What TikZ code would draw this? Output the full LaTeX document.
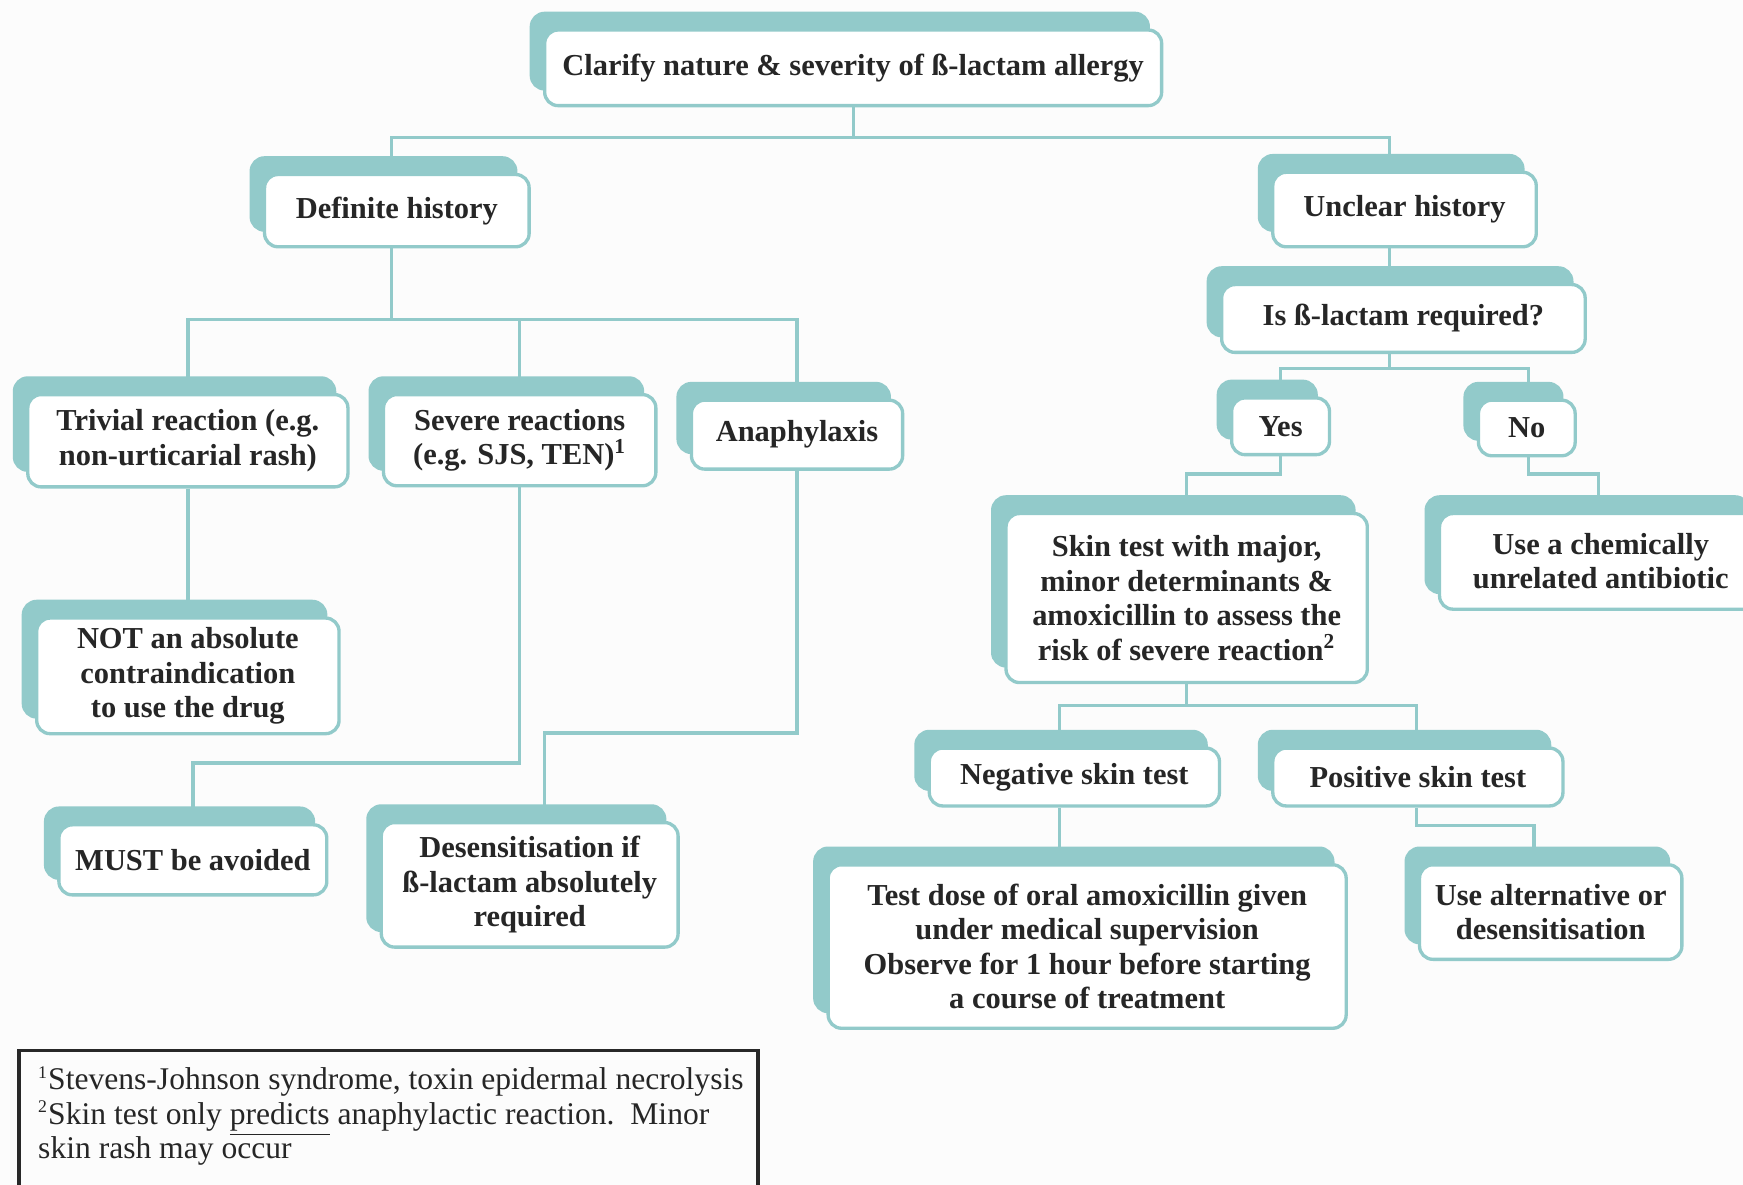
\documentclass[tikz,border=0pt]{standalone}
\usepackage{fontspec}
\setmainfont{Liberation Serif}
\usetikzlibrary{shadows}
\definecolor{tealc}{RGB}{146,202,202}
\definecolor{bgc}{RGB}{252,252,252}
\definecolor{footc}{RGB}{40,40,40}
\begin{document}
\begin{tikzpicture}[x=0.5pt,y=-0.5pt,
  box/.style={draw=tealc, line width=1.5pt, fill=white, rounded corners=6pt,
    align=center, inner sep=0pt, text=black!85,
    font=\bfseries\fontsize{13.7}{15.5}\selectfont,
    copy shadow={shadow xshift=-6pt, shadow yshift=7.5pt, fill=tealc, draw=tealc}},
  sz/.style 2 args={minimum width=#1*0.5pt, minimum height=#2*0.5pt},
  conn/.style={draw=tealc, line width=1.5pt}]
\useasboundingbox (0,0) rectangle (1568,1066);
\clip (0,0) rectangle (1568,1066);
\fill[bgc] (0,0) rectangle (1568,1066);

% boxes
\node[box, sz={555}{68}] (clar) at (767.5,61) {Clarify nature \& severity of ß-lactam allergy};
\node[box, sz={238}{65}] (def) at (357,189.5) {Definite history};
\node[box, sz={237}{67}] (unc) at (1263.5,188.5) {Unclear history};
\node[box, sz={327}{61}] (isb) at (1262.5,286.5) {Is ß-lactam required?};
\node[box, sz={288}{83}] (triv) at (169,396.5) {Trivial reaction (e.g.\\ non-urticarial rash)};
\node[box, sz={245}{82}] (sev) at (467.5,396) {Severe reactions\\ (e.g. SJS, TEN)\textsuperscript{1}};
\node[box, sz={190}{62}] (ana) at (717,391) {Anaphylaxis};
\node[box, sz={88}{51}] (yes) at (1152,383.5) {Yes};
\node[box, sz={87}{50}] (no) at (1373.5,385) {No};
\node[box, sz={325}{152}] (skin) at (1067.5,538) {Skin test with major,\\ minor determinants \&\\ amoxicillin to assess the\\ risk of severe reaction\textsuperscript{2}};
\node[box, sz={290}{86}] (chem) at (1440,505) {Use a chemically\\ unrelated antibiotic};
\node[box, sz={272}{104}] (notabs) at (169,608) {NOT an absolute\\ contraindication\\ to use the drug};
\node[box, sz={261}{52}] (neg) at (966.5,699) {Negative skin test};
\node[box, sz={261}{52}] (pos) at (1275.5,699) {Positive skin test};
\node[box, sz={241}{63}] (must) at (173.5,773.5) {MUST be avoided};
\node[box, sz={267}{112}] (des) at (476.5,796) {Desensitisation if\\ ß-lactam absolutely\\ required};
\node[box, sz={466}{147}] (test) at (978,851.5) {Test dose of oral amoxicillin given\\ under medical supervision\\ Observe for 1 hour before starting\\ a course of treatment};
\node[box, sz={236}{85}] (alt) at (1395,820.5) {Use alternative or\\ desensitisation};

% connectors
\draw[conn] (clar.south) -- ++(0,27) -| ([xshift=-2.5pt]def.north);
\draw[conn] (clar.south) ++(0,27) -| ([xshift=-6.75pt]unc.north);
\draw[conn] ([xshift=-2.5pt]def.south) -- ++(0,64) -| (triv.north);
\draw[conn] ([xshift=-2.5pt]def.south) ++(0,64) -| (sev.north);
\draw[conn] ([xshift=-2.5pt]def.south) ++(0,64) -| (ana.north);
\draw[conn] ([xshift=-6.75pt]unc.south) -- ([xshift=-6.25pt]isb.north);
\draw[conn] ([xshift=-6.25pt]isb.south) -- ++(0,13) -| (yes.north);
\draw[conn] ([xshift=-6.25pt]isb.south) ++(0,13) -| ([xshift=0.75pt]no.north);
\draw[conn] (yes.south) -- ++(0,16) -| (skin.north);
\draw[conn] ([xshift=0.75pt]no.south) -- ++(0,15) -| ([xshift=-1pt]chem.north);
\draw[conn] (triv.south) -- (notabs.north);
\draw[conn] (sev.south) -- ++(0,248) -| (must.north);
\draw[conn] (ana.south) -- ++(0,236) -| ([xshift=6.75pt]des.north);
\draw[conn] (skin.south) -- ++(0,19) -| ([xshift=-6.75pt]neg.north);
\draw[conn] (skin.south) ++(0,19) -| ([xshift=-0.75pt]pos.north);
\draw[conn] ([xshift=-6.75pt]neg.south) -- ([xshift=-6.75pt]neg.south |- test.north);
\draw[conn] ([xshift=-0.75pt]pos.south) -- ++(0,16) -| ([xshift=-7.5pt]alt.north);

% footnote
\draw[footc, line width=1.5pt] (17,945) rectangle (682,1090);
\node[anchor=north west, inner sep=0pt, align=left, text=black!85,
  font=\fontsize{14.2}{15.5}\selectfont] (foot) at (34,959)
  {\textsuperscript{\footnotesize 1}Stevens-Johnson syndrome, toxin epidermal necrolysis\\
   \textsuperscript{\footnotesize 2}Skin test only \underline{predicts} anaphylactic reaction.\ \ Minor\\
   skin rash may occur};
\end{tikzpicture}
\end{document}
